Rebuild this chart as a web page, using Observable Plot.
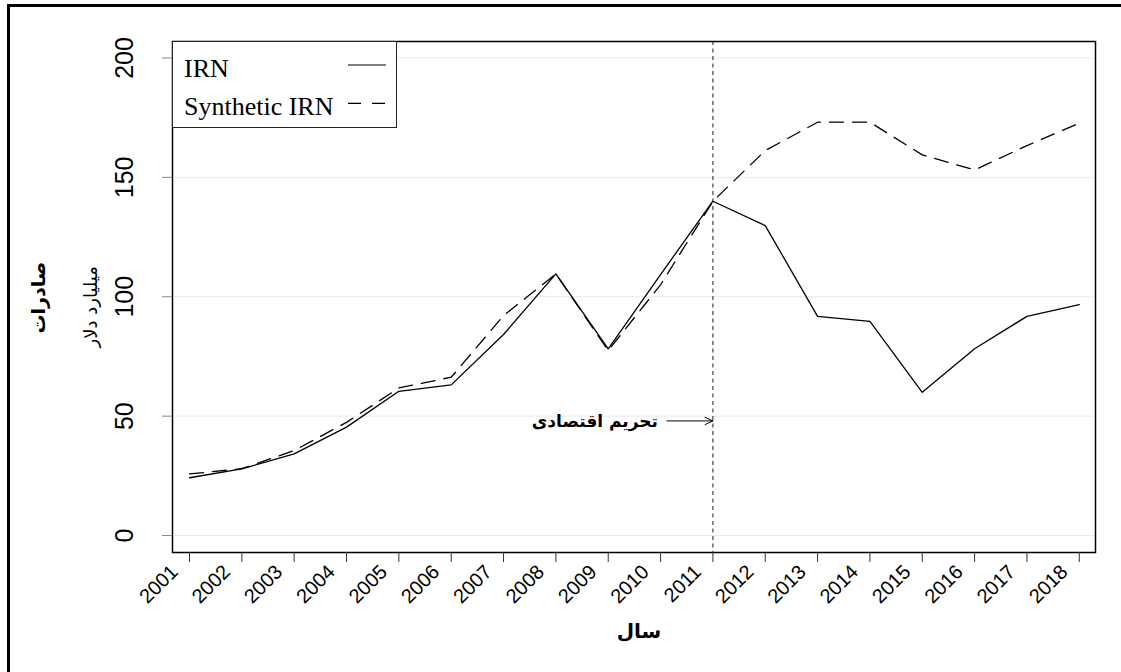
<!DOCTYPE html>
<html>
<head>
<meta charset="utf-8">
<script src="https://cdn.jsdelivr.net/npm/d3@7"></script>
<script src="https://cdn.jsdelivr.net/npm/@observablehq/plot@0.6"></script>
<style>
html, body { margin: 0; padding: 0; background: #fff; overflow: hidden; }
#wrap { position: relative; width: 1121px; height: 672px; overflow: hidden; }
#border { position: absolute; left: 7px; top: 4px; width: 1300px; height: 800px; border-left: 3px solid #000; border-top: 3px solid #000; pointer-events: none; }
#legend { position: absolute; left: 172px; top: 41px; }
</style>
</head>
<body>
<div id="wrap">
  <div id="chart"></div>
  <svg id="legend" width="226" height="88"></svg>
  <div id="border"></div>
</div>
<script>
// ---- data ----
const years = [2001, 2002, 2003, 2004, 2005, 2006, 2007, 2008, 2009, 2010, 2011, 2012, 2013, 2014, 2015, 2016, 2017, 2018];
const irn = [24.2, 27.9, 34.2, 45.4, 60.4, 63.1, 84.2, 109.6, 78.2, 109.3, 140.0, 129.8, 91.8, 89.7, 60.0, 78.2, 91.8, 96.7];
const syntheticIrn = [25.8, 28.0, 35.6, 47.4, 61.8, 66.3, 92.1, 109.6, 77.5, 105.0, 140.0, 161.2, 173.1, 173.1, 159.4, 153.1, 163.3, 172.7];
const yTicks = [0, 50, 100, 150, 200];
const seriesNames = ["IRN", "Synthetic IRN"];
const sanctionYear = 2011;
const annotationText = "تحریم اقتصادی";
const annotationTextX = 2009.95;
const arrowStartX = 2010.12;
const annotationY = 48;
const xTitle = "سال";
const yTitle = "صادرات";
const yUnit = "میلیارد دلار";

const irnRows = years.map((year, i) => ({year, value: irn[i]}));
const synRows = years.map((year, i) => ({year, value: syntheticIrn[i]}));

const persian = {fontFamily: "DejaVu Sans", fontWeight: "bold"};

const chart = Plot.plot({
  width: 1121,
  height: 672,
  marginLeft: 172,
  marginRight: 26,
  marginTop: 41,
  marginBottom: 120,
  style: {fontFamily: "Liberation Sans", background: "#fff", color: "#000", overflow: "visible"},
  x: {type: "linear", domain: [2000.675, 2018.31]},
  y: {domain: [-7.1, 206.9]},
  marks: [
    Plot.gridY(yTicks, {stroke: "#e3ebeb", strokeOpacity: 1, strokeWidth: 1}),
    Plot.ruleX([sanctionYear], {stroke: "#666", strokeWidth: 1.5, strokeDasharray: "4,3.5"}),
    Plot.line(irnRows, {x: "year", y: "value", stroke: "#000", strokeWidth: 1.3}),
    Plot.line(synRows, {x: "year", y: "value", stroke: "#000", strokeWidth: 1.3, strokeDasharray: "14,9"}),
    Plot.arrow([{x1: arrowStartX, x2: sanctionYear, y: annotationY}], {
      x1: "x1", x2: "x2", y1: "y", y2: "y", stroke: "#000", strokeWidth: 1, headLength: 13, headAngle: 50
    }),
    Plot.text([annotationText], {x: () => annotationTextX, y: () => annotationY, textAnchor: "end", fontSize: 17, dy: 1, ...persian}),
    Plot.frame({stroke: "#000", strokeWidth: 1.5}),
    Plot.axisY(yTicks, {tickSize: 10, tickPadding: 30, tickRotate: -90, fontSize: 25, stroke: "#888", fill: "#000", label: null}),
    Plot.axisX(years, {tickSize: 10, stroke: "#333", fill: "none"}),
    Plot.axisX(years, {tickSize: 0, tickPadding: 16, tickRotate: -45, dx: -15, fontSize: 20, fill: "#000", label: null, tickFormat: d => String(d)}),
    Plot.text([xTitle], {frameAnchor: "bottom", dy: 85, dx: 5, fontSize: 20, ...persian}),
    Plot.text([yTitle], {frameAnchor: "left", dx: -134, dy: 36.5, rotate: -90, fontSize: 19, ...persian}),
    Plot.text([yUnit], {frameAnchor: "left", dx: -81, dy: 50.5, rotate: -90, fontSize: 18, fontFamily: "DejaVu Sans"})
  ]
});
document.getElementById("chart").appendChild(chart);

// ---- legend ----
const lg = d3.select("#legend");
lg.append("rect").attr("x", 0.5).attr("y", 0.5).attr("width", 224).attr("height", 86)
  .attr("fill", "#fff").attr("stroke", "#222").attr("stroke-width", 1);
const dashes = [null, "13,11"];
seriesNames.forEach((name, i) => {
  const base = 36 + i * 38.3;
  lg.append("text").attr("x", 12).attr("y", base)
    .attr("font-family", "Liberation Serif").attr("font-size", 26).text(name);
  lg.append("line").attr("x1", 176).attr("x2", 214).attr("y1", base - 12).attr("y2", base - 12)
    .attr("stroke", "#000").attr("stroke-width", 1.2).attr("stroke-dasharray", dashes[i]);
});
</script>
</body>
</html>
